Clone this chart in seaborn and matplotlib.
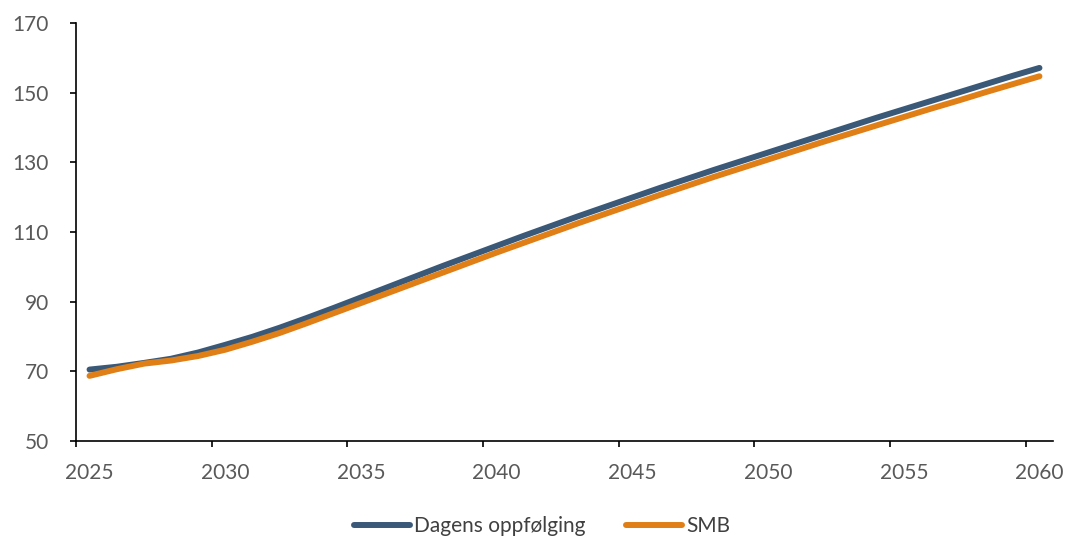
import numpy as np
import pandas as pd
import matplotlib
matplotlib.use("Agg")
import matplotlib.pyplot as plt
from matplotlib.ticker import FixedLocator, NullFormatter, FixedFormatter
import seaborn as sns

# Annual values, plotted at mid-year
years = list(range(2025, 2061))
dagens = [70.5, 71.3, 72.4, 73.6, 75.4, 77.6, 79.9, 82.5, 85.3, 88.2,
          91.2, 94.2, 97.2, 100.2, 103.1, 106.0, 108.9, 111.7, 114.5, 117.2,
          119.9, 122.6, 125.2, 127.8, 130.3, 132.8, 135.3, 137.8, 140.3, 142.8,
          145.2, 147.6, 150.0, 152.4, 154.8, 157.1]
smb = [68.7, 70.6, 72.2, 73.1, 74.4, 76.2, 78.5, 81.0, 83.8, 86.7,
       89.6, 92.5, 95.4, 98.3, 101.2, 104.1, 106.9, 109.7, 112.5, 115.2,
       117.9, 120.6, 123.2, 125.8, 128.3, 130.8, 133.3, 135.8, 138.2, 140.6,
       143.0, 145.4, 147.7, 150.1, 152.4, 154.7]
series_names = ["Dagens oppfølging", "SMB"]
colors = ["#3A5878", "#E07F16"]
x_tick_years = list(range(2025, 2061, 5))
y_ticks = list(range(50, 171, 20))

df = pd.DataFrame({
    "year": np.array(years * 2) + 0.5,
    "value": dagens + smb,
    "series": [series_names[0]] * len(years) + [series_names[1]] * len(years),
})

sns.set_theme(style="white")
plt.rcParams["font.family"] = ["Lato", "DejaVu Sans"]

fig = plt.figure(figsize=(10.67, 5.37), dpi=100)
ax = fig.add_axes([0.0712, 0.1788, 0.9157, 0.7784])

sns.lineplot(data=df, x="year", y="value", hue="series",
             palette=dict(zip(series_names, colors)), linewidth=4.3,
             ax=ax, legend=False)
for ln in ax.get_lines():
    ln.set_solid_capstyle("round")

ax.set_xlim(2025, 2061)
ax.set_ylim(50, 170)
ax.set_xlabel("")
ax.set_ylabel("")

# Tick marks at year boundaries, labels centred on the year
ax.xaxis.set_major_locator(FixedLocator(x_tick_years))
ax.xaxis.set_major_formatter(NullFormatter())
ax.xaxis.set_minor_locator(FixedLocator([y + 0.5 for y in x_tick_years]))
ax.xaxis.set_minor_formatter(FixedFormatter([str(y) for y in x_tick_years]))
ax.set_yticks(y_ticks)
ax.set_yticklabels([str(v) for v in y_ticks])

label_color = "#595959"
ax.tick_params(axis="x", which="major", direction="out", length=4.5, width=1.2,
               color="black", bottom=True)
ax.tick_params(axis="x", which="minor", length=0, pad=16, labelsize=15,
               labelcolor=label_color, bottom=True)
ax.tick_params(axis="y", which="major", direction="out", length=4.5, width=1.2,
               color="black", pad=15, labelsize=15, labelcolor=label_color,
               left=True)

for side in ["top", "right"]:
    ax.spines[side].set_visible(False)
for side in ["left", "bottom"]:
    ax.spines[side].set_color("black")
    ax.spines[side].set_linewidth(1.2)

handles = ax.get_lines()[:2]
leg = fig.legend(handles, series_names, loc="center", bbox_to_anchor=(0.508, 0.02),
                 ncol=2, frameon=False, fontsize=15, handlelength=2.7,
                 handletextpad=0.2, columnspacing=1.9)
for t in leg.get_texts():
    t.set_color("#404040")

fig.savefig("out.png", dpi=100)
